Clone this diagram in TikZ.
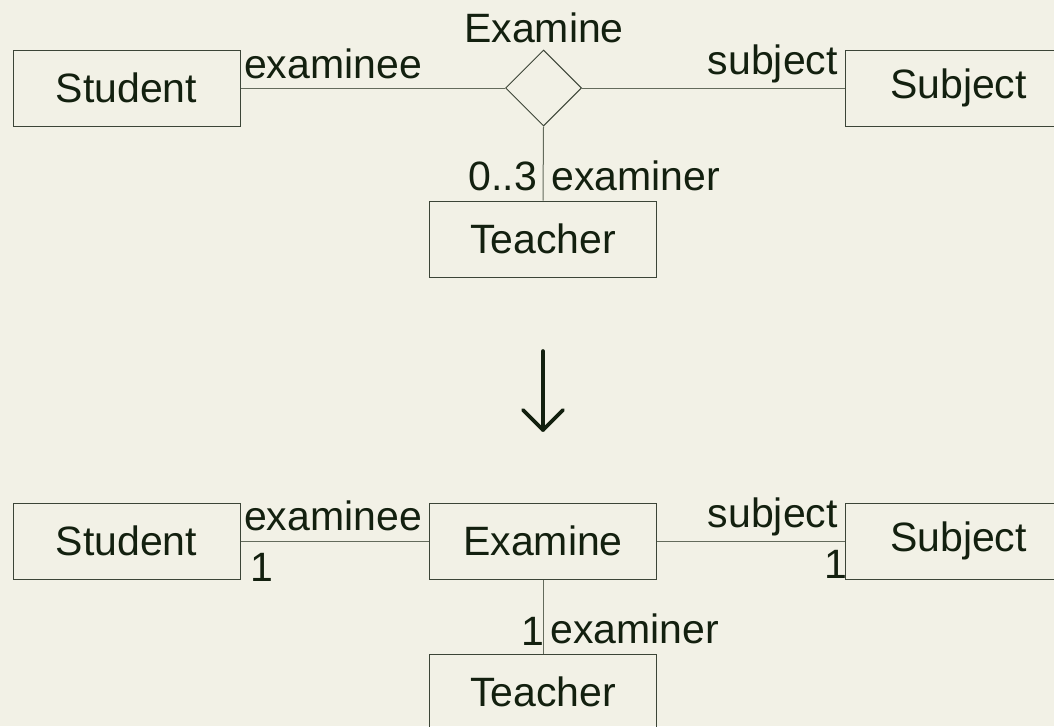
\documentclass[tikz,border=0pt]{standalone}
\usepackage{fontspec}
\setmainfont{Liberation Sans}
\usetikzlibrary{shapes.geometric}
\definecolor{bgc}{HTML}{F2F1E6}
\definecolor{txtc}{HTML}{13200F}
\definecolor{boxc}{HTML}{3C4537}
\definecolor{linec}{HTML}{646B5C}
\tikzset{
  entity/.style={draw=boxc, line width=1pt, rectangle, minimum width=227pt, minimum height=76pt, inner sep=0pt, text=txtc, font=\fontsize{41}{49}\selectfont},
  rel/.style={draw=boxc, line width=1pt, diamond, minimum width=76pt, minimum height=76pt, inner sep=0pt},
  lbl/.style={inner sep=0pt, text=txtc, font=\fontsize{41}{49}\selectfont},
  conn/.style={draw=linec, line width=1pt},
  bigarrow/.style={draw=txtc, line width=3.6pt, line cap=round, line join=round}
}
\begin{document}
\begin{tikzpicture}[x=1pt,y=-1pt]
\fill[bgc] (0,0) rectangle (1054,726);
\useasboundingbox (0,0) rectangle (1054,726);
% top diagram
\node[entity] (s1) at (126.5,88) {Student};
\node[rel] (d1) at (543.5,88) {};
\node[entity] (sub1) at (958.5,88) {Subject};
\node[entity] (t1) at (543,239) {Teacher};
\draw[conn] (s1.east) -- (d1.west);
\draw[conn] (d1.east) -- (sub1.west);
\draw[conn] (d1.south) -- (t1.north);
\node[lbl, anchor=base] (exl) at (544,42) {Examine};
\node[lbl, anchor=base west] (ee1) at (244,78) {examinee};
\node[lbl, anchor=base east] (sj1) at (838,74) {subject};
\node[lbl, anchor=base east] (m03) at (537,190) {0..3};
\node[lbl, anchor=base west] (er1) at (551,190) {examiner};
% arrow
\coordinate (atop) at (543,351);
\coordinate (abot) at (543,430);
\draw[bigarrow] (atop) -- (abot);
\draw[bigarrow] ([xshift=-20pt,yshift=20pt]abot) -- (abot) -- ([xshift=20pt,yshift=20pt]abot);
% bottom diagram
\node[entity] (s2) at (126.5,541) {Student};
\node[entity] (e2) at (543,541) {Examine};
\node[entity] (sub2) at (958.5,541) {Subject};
\node[entity] (t2) at (543,692) {Teacher};
\draw[conn] (s2.east) -- (e2.west);
\draw[conn] (e2.east) -- (sub2.west);
\draw[conn] (e2.south) -- (t2.north);
\node[lbl, anchor=base west] (ee2) at (244,530) {examinee};
\node[lbl, anchor=base west] (m1a) at (250,581) {1};
\node[lbl, anchor=base east] (sj2) at (838,527) {subject};
\node[lbl, anchor=base east] (m1b) at (847,578) {1};
\node[lbl, anchor=base east] (m1c) at (544,645) {1};
\node[lbl, anchor=base west] (er2) at (550,643) {examiner};
\end{tikzpicture}
\end{document}
